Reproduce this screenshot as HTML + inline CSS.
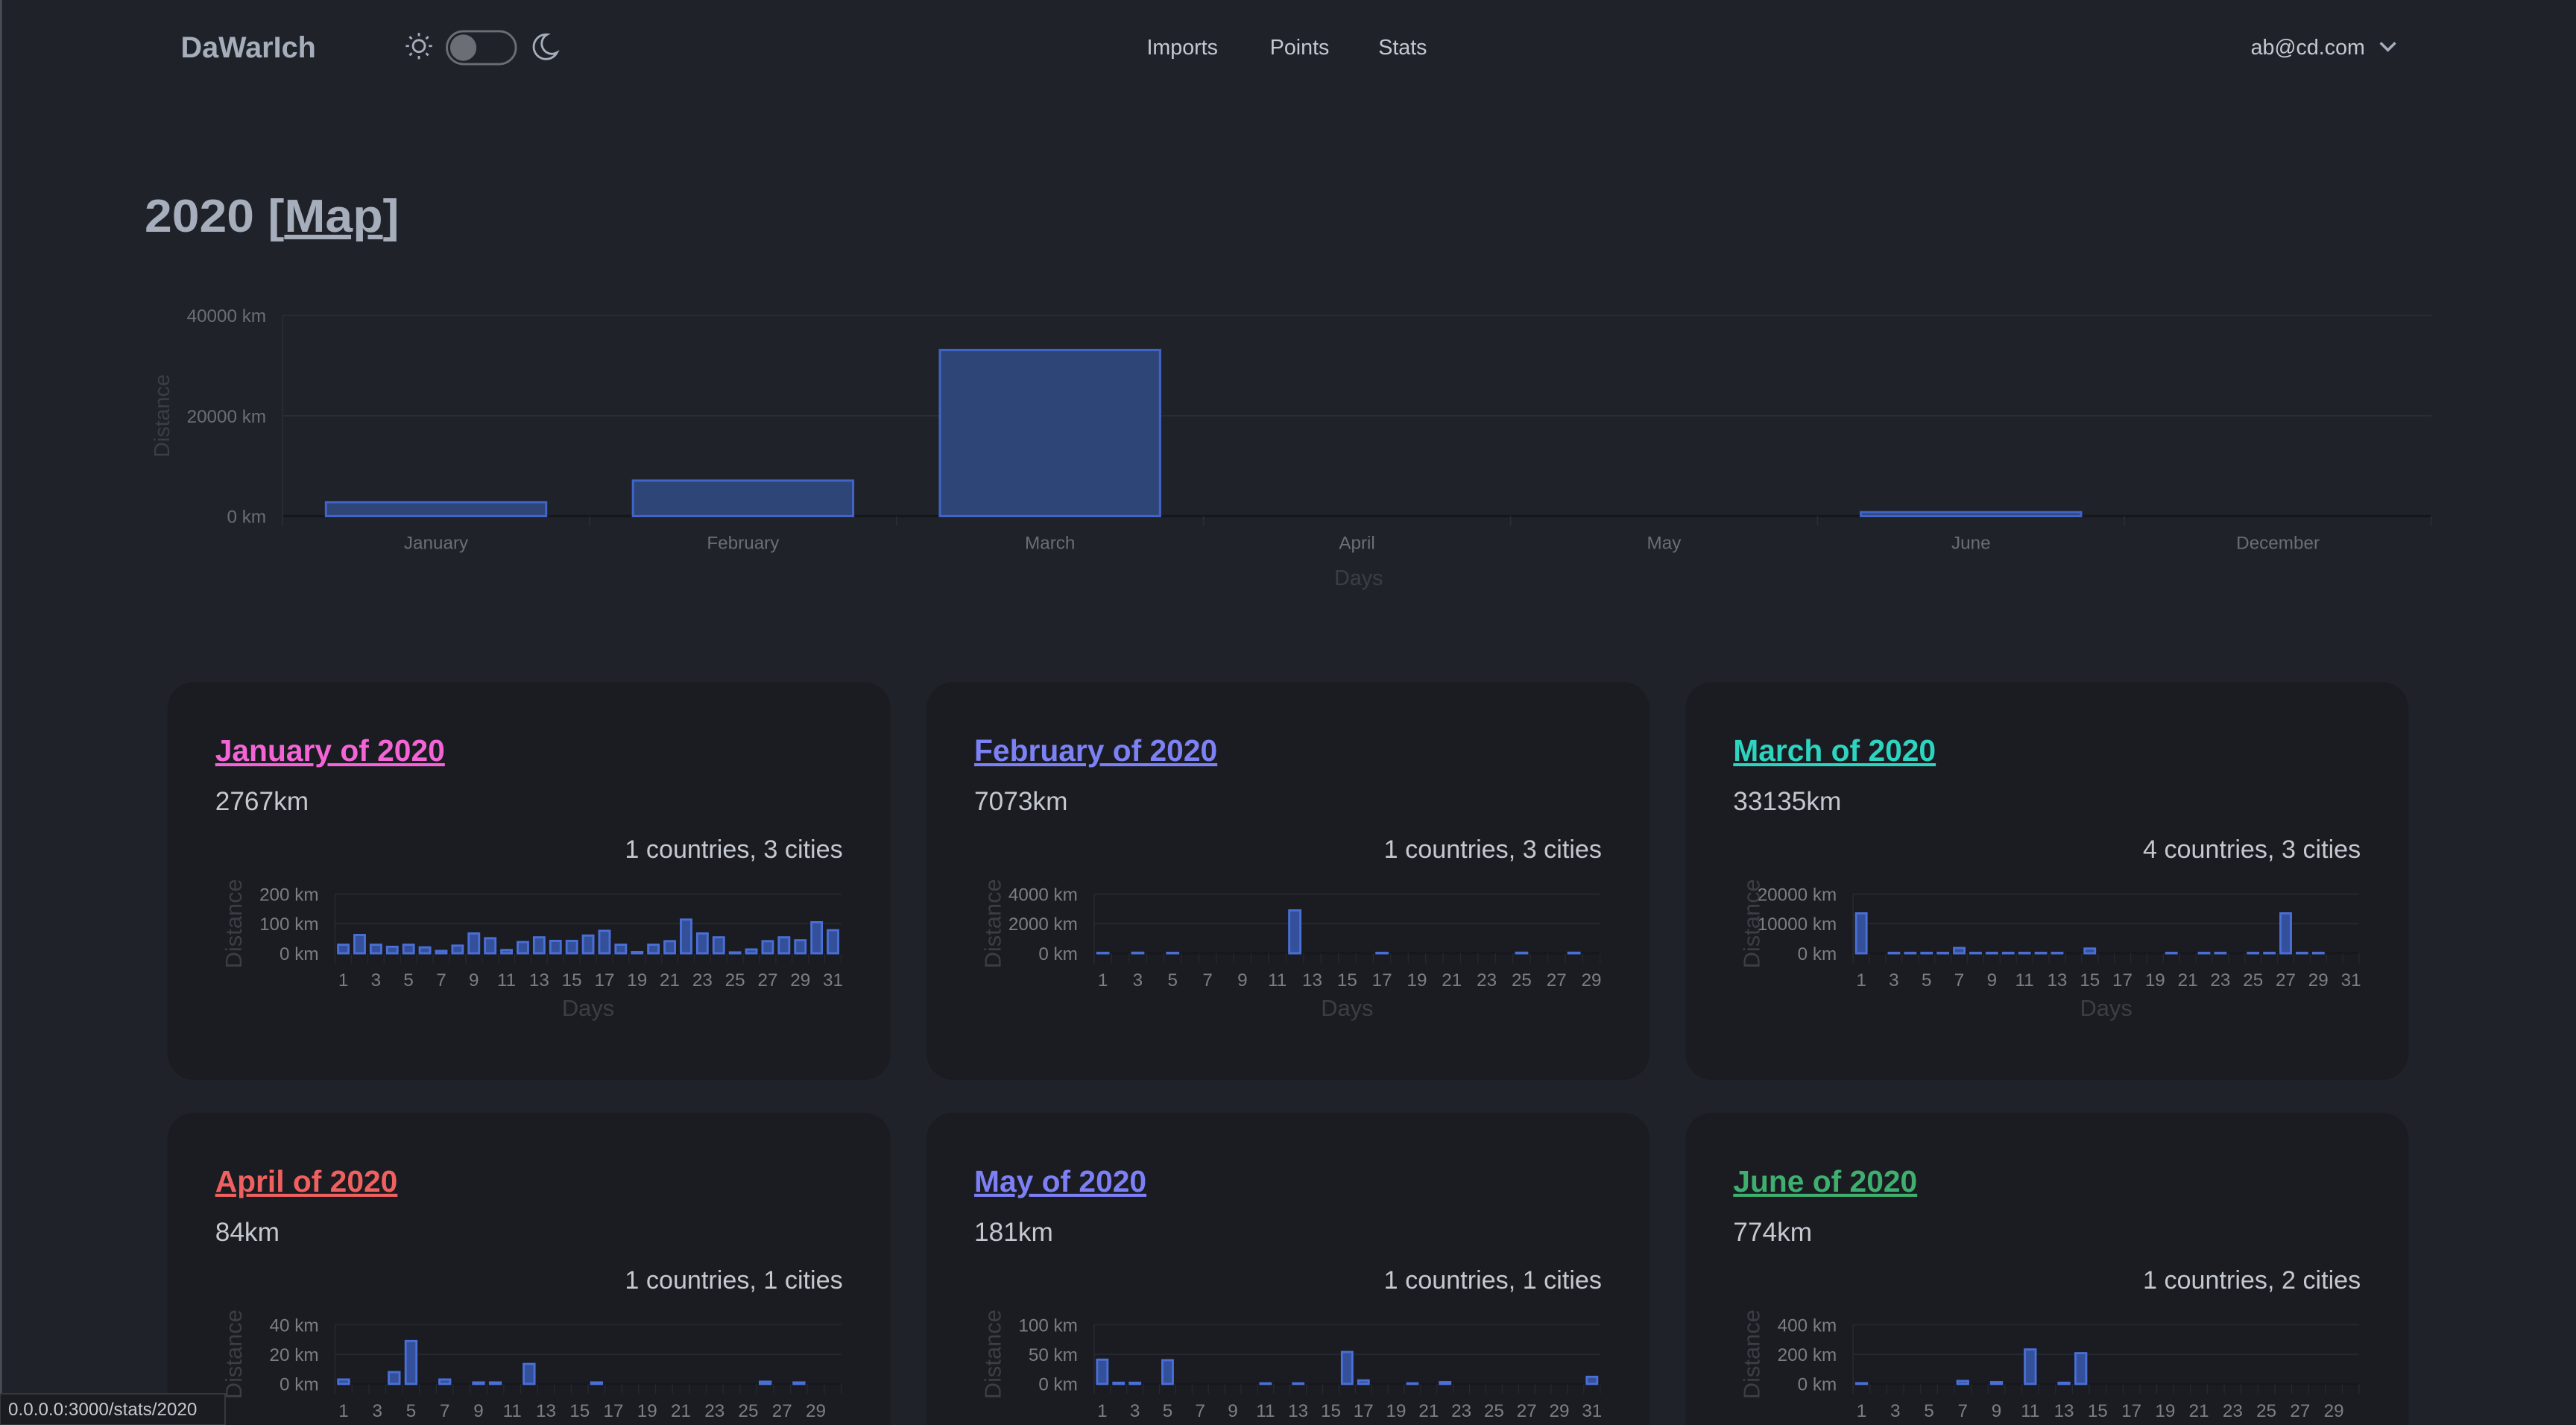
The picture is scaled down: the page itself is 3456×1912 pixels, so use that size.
<!DOCTYPE html>
<html><head><meta charset="utf-8"><style>
html,body{margin:0;padding:0;background:#1f2229;overflow:hidden;width:3456px;height:1912px}
svg{display:block;overflow:hidden}
text{font-family:"Liberation Sans",sans-serif}
</style></head><body>
<svg id="s" width="3456" height="1912" viewBox="0 0 1568 867" preserveAspectRatio="none" xmlns="http://www.w3.org/2000/svg">
<rect width="1568" height="867" fill="#1f2229"/>
<rect x="0" y="0" width="1.2" height="867" fill="#4a4d55"/>
<text x="110" y="35" font-size="18" font-weight="bold" fill="#a6adbb">DaWarIch</text>
<g stroke="#a6adbb" stroke-width="1.3" fill="none">
<circle cx="255" cy="28" r="3.6"/>
<path d="M255 20v2M255 34v2M247 28h2M261 28h2M249.3 22.3l1.4 1.4M259.3 32.3l1.4 1.4M249.3 33.7l1.4-1.4M259.3 23.7l1.4-1.4"/>
<rect x="272" y="19" width="42" height="20" rx="10" stroke="#6b6e75"/>
<path d="M333 21a7.5 7.5 0 1 0 6 11a6 6 0 0 1 -6 -11z"/>
<path d="M1449 26l4.5 4.5 4.5-4.5" stroke-width="1.6"/>
</g>
<circle cx="282" cy="29" r="8" fill="#6b6e75"/>
<g font-size="13" fill="#c4c8d0">
<text x="698" y="33">Imports</text><text x="773" y="33">Points</text><text x="839" y="33">Stats</text>
<text x="1370" y="33">ab@cd.com</text>
</g>
<text x="88" y="141" font-size="28" font-weight="bold" fill="#a6adbb" textLength="155" lengthAdjust="spacingAndGlyphs">2020 [<tspan text-decoration="underline">Map</tspan>]</text>
<g id="main"></g>
<g id="cards"></g>
<rect x="0" y="848" width="137" height="19" fill="#1a1c21" stroke="#3a3d44" stroke-width="0.8"/>
<text x="5" y="861" font-size="11" fill="#c4c8d0">0.0.0.0:3000/stats/2020</text>
</svg>
<script>
const NS="http://www.w3.org/2000/svg";
function el(p,t,a,txt){const e=document.createElementNS(NS,t);for(const k in a)e.setAttribute(k,a[k]);if(txt!=null)e.textContent=txt;p.appendChild(e);return e;}
const main=document.getElementById('main');
const px0=172,px1=1480,y0=314;
[[192,'40000 km'],[253,'20000 km'],[314,'0 km']].forEach(([y,l])=>{
 el(main,'line',{x1:px0,x2:px1,y1:y,y2:y,stroke:y==314?'#15171b':'#2a2d34','stroke-width':y==314?1.5:0.8});
 el(main,'text',{x:162,y:y+4,'font-size':11,fill:'#6b6e75','text-anchor':'end'},l);
});
el(main,'line',{x1:px0,x2:px0,y1:192,y2:320,stroke:'#2a2d34','stroke-width':0.8});
const months=['January','February','March','April','May','June','December'];
const vals=[2767,7073,33135,84,181,774,20];
const cw=(px1-px0)/7;
months.forEach((m,i)=>{
 const cx=px0+cw*(i+0.5);
 el(main,'line',{x1:px0+cw*(i+1),x2:px0+cw*(i+1),y1:314,y2:320,stroke:'#2a2d34','stroke-width':0.8});
 el(main,'text',{x:cx,y:334,'font-size':11,fill:'#6b6e75','text-anchor':'middle'},m);
 const h=vals[i]/40000*122;
 if(h>0.8) el(main,'rect',{x:cx-67,y:y0-h,width:134,height:h,fill:'#2e4577',stroke:'#4064c8','stroke-width':1.4});
});
el(main,'text',{x:827,y:356,'font-size':13,fill:'#3b3e45','text-anchor':'middle'},'Days');
el(main,'text',{x:0,y:0,'font-size':13,fill:'#3b3e45','text-anchor':'middle',transform:'translate(103,253) rotate(-90)'},'Distance');

const cards=[
 {x:102,y:415,t:'January of 2020',c:'#f564d6',km:'2767km',cc:'1 countries, 3 cities',max:200,lab:['200 km','100 km','0 km'],days:31,
  v:[29,62,29,22,29,20,8,26,67,51,11,38,54,42,42,60,76,29,4,29,41,114,67,54,3,13,41,54,44,105,78]},
 {x:564,y:415,t:'February of 2020',c:'#7c82f5',km:'7073km',cc:'1 countries, 3 cities',max:4000,lab:['4000 km','2000 km','0 km'],days:29,
  v:[30,0,40,0,30,0,0,0,10,0,10,2900,0,0,20,0,30,0,0,0,10,0,20,0,40,20,20,40,0]},
 {x:1026,y:415,t:'March of 2020',c:'#2dd4bf',km:'33135km',cc:'4 countries, 3 cities',max:20000,lab:['20000 km','10000 km','0 km'],days:31,
  v:[13500,0,150,150,150,150,1800,150,150,150,150,150,150,0,1600,0,0,0,0,150,0,150,150,0,150,150,13500,150,150,0,0]},
 {x:102,y:677,t:'April of 2020',c:'#f0605f',km:'84km',cc:'1 countries, 1 cities',max:40,lab:['40 km','20 km','0 km'],days:30,
  v:[3,0,0,8,29,0,3,0,1,1,0,13.5,0,0,0,1,0,0,0,0,0,0,0,0,0,1.5,0,1,0,0]},
 {x:564,y:677,t:'May of 2020',c:'#7c7ff5',km:'181km',cc:'1 countries, 1 cities',max:100,lab:['100 km','50 km','0 km'],days:31,
  v:[41,2,2,0,40,0,0,0.5,0,0,1,0,1,0,0,54,6,0,0,1,0,3,0,0,0,0,0,0,0,0,12]},
 {x:1026,y:677,t:'June of 2020',c:'#3faf6f',km:'774km',cc:'1 countries, 2 cities',max:400,lab:['400 km','200 km','0 km'],days:30,
  v:[5,0,0,0,0,0,20,0,12,0,233,0,8,208,0,0,0,0,0,0,0,0,0,0,0,0,0,0,0,0]},
];
const cg=document.getElementById('cards');
cards.forEach(c=>{
 const g=el(cg,'g',{transform:`translate(${c.x},${c.y})`});
 el(g,'rect',{x:0,y:0,width:440,height:242,rx:16,fill:'#1a1c21'});
 el(g,'text',{x:29,y:48,'font-size':18.5,'font-weight':'bold',fill:c.c,'text-decoration':'underline'},c.t);
 el(g,'text',{x:29,y:78,'font-size':16,fill:'#c4c8d0'},c.km);
 el(g,'text',{x:411,y:107,'font-size':15.5,fill:'#c4c8d0','text-anchor':'end'},c.cc);
 const X0=102,X1=410,G=[129,147,165];
 G.forEach((y,i)=>{
  el(g,'line',{x1:X0,x2:X1,y1:y,y2:y,stroke:i==2?'#15171b':'#25282e','stroke-width':i==2?1.2:0.8});
  el(g,'text',{x:92,y:y+4,'font-size':11,fill:'#7b7e85','text-anchor':'end'},c.lab[i]);
 });
 el(g,'line',{x1:X0,x2:X0,y1:129,y2:171,stroke:'#25282e','stroke-width':0.8});
 const dw=(X1-X0)/c.days;
 for(let d=0;d<c.days;d++){
  const cx=X0+dw*(d+0.5);
  el(g,'line',{x1:X0+dw*(d+1),x2:X0+dw*(d+1),y1:165,y2:171,stroke:'#25282e','stroke-width':0.6});
  if(d%2==0) el(g,'text',{x:cx,y:185,'font-size':11,fill:'#7b7e85','text-anchor':'middle'},String(d+1));
  const h=c.v[d]/c.max*36;
  if(h>0.25) el(g,'rect',{x:cx-dw*0.32,y:165-h,width:dw*0.64,height:h,fill:'#34509a',stroke:'#4a6fd6','stroke-width':1.3});
 }
 el(g,'text',{x:(X0+X1)/2,y:203,'font-size':14,fill:'#3b3e45','text-anchor':'middle'},'Days');
 el(g,'text',{x:0,y:0,'font-size':14,fill:'#3b3e45','text-anchor':'middle',transform:'translate(45,147) rotate(-90)'},'Distance');
});
</script>
</body></html>
